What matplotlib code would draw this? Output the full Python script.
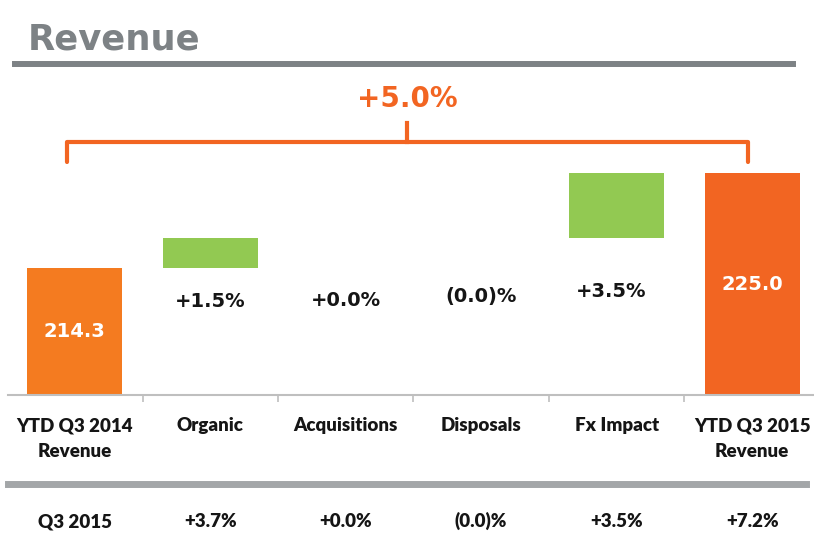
import matplotlib.pyplot as plt
from matplotlib.lines import Line2D
from matplotlib.transforms import Affine2D, blended_transform_factory

# data
categories = ["YTD Q3 2014\nRevenue", "Organic", "Acquisitions", "Disposals",
              "Fx Impact", "YTD Q3 2015\nRevenue"]
start_value = 214.3
end_value = 225.0
steps = [3.4, 0.0, 0.0, 7.3]          # organic, acquisitions, disposals, fx
step_labels = ["+1.5%", "+0.0%", "(0.0)%", "+3.5%"]
total_label = "+5.0%"
q3_row = ["Q3 2015", "+3.7%", "+0.0%", "(0.0)%", "+3.5%", "+7.2%"]

ORANGE_1 = "#F47B20"
ORANGE_2 = "#F26522"
GREEN = "#92C952"
GREY = "#7D8285"
DARK = "#151515"

W, H = 814, 536
fig = plt.figure(figsize=(W / 100, H / 100), dpi=100)
px = Affine2D().scale(1 / W, -1 / H).translate(0, 1) + fig.transFigure

# main axes (pixel box 8..814 x 143..395)
ax = fig.add_axes([8 / W, (H - 395) / H, 806 / W, (395 - 143) / H])
ax.set_xlim(-0.493, 5.457)
ax.set_ylim(200.0, 228.41)
for s in ["top", "right", "left"]:
    ax.spines[s].set_visible(False)
ax.spines["bottom"].set_color("#BFBFBF")
ax.spines["bottom"].set_linewidth(1.5)
ax.set_yticks([])
ax.set_xticks([i + 0.5 for i in range(len(categories) - 1)])
ax.set_xticklabels([])
ax.tick_params(axis="x", direction="out", length=5, width=1.2, color="#BFBFBF")

base = ax.get_ylim()[0]
n = len(categories)

# start / end bars
ax.bar(0, start_value - base, bottom=base, width=0.70, color=ORANGE_1)
ax.bar(n - 1, end_value - base, bottom=base, width=0.70, color=ORANGE_2)
ax.text(0, (start_value + base) / 2, f"{start_value:.1f}", ha="center", va="center",
        color="white", fontsize=14, fontweight="bold", family="DejaVu Sans")
ax.text(n - 1, (end_value + base) / 2, f"{end_value:.1f}", ha="center", va="center",
        color="white", fontsize=14, fontweight="bold", family="DejaVu Sans")

# floating step bars
running = start_value
for i, d in enumerate(steps):
    if d > 0:
        ax.bar(i + 1, d, bottom=running, width=0.70, color=GREEN)
    running += d

# step labels
step_label_y = [301.7, 300.0, 296.7, 291.7]
bt = blended_transform_factory(ax.transData, px)
for i, (lab, yy) in enumerate(zip(step_labels, step_label_y)):
    ax.text(i + 1 - (0.04 if i == 3 else 0), yy, lab, transform=bt, ha="center",
            va="center", color=DARK, fontsize=14, fontweight="bold",
            family="DejaVu Sans")

# category labels (two lines)
for i, cat in enumerate(categories):
    for j, line in enumerate(cat.split("\n")):
        ax.text(i, 431 + 26 * j, line, transform=bt, ha="center", va="baseline",
                color=DARK, fontsize=13.5, fontweight="heavy", family="Lato")

# Q3 row
for i, lab in enumerate(q3_row):
    ax.text(i, 527, lab, transform=bt, ha="center", va="baseline",
            color=DARK, fontsize=13.5, fontweight="heavy", family="Lato")

# title and rules
fig.text(28, 49, "Revenue", transform=px, ha="left", va="baseline", color=GREY,
         fontsize=25.5, fontweight="bold", family="DejaVu Sans")
fig.add_artist(Line2D([15, 793], [63.5, 63.5], transform=px, color=GREY, lw=4.3))
fig.add_artist(Line2D([8, 806], [483.5, 483.5], transform=px, color="#A3A6A8", lw=5))

# bracket with total change
fig.add_artist(Line2D([67, 67, 748, 748], [162, 142, 142, 162], transform=px,
                      color=ORANGE_2, lw=3, solid_joinstyle="round",
                      solid_capstyle="round"))
fig.add_artist(Line2D([407, 407], [142, 123], transform=px, color=ORANGE_2, lw=3))
fig.text(407, 107, total_label, transform=px, ha="center", va="baseline",
         color=ORANGE_2, fontsize=20, fontweight="bold", family="DejaVu Sans")

fig.savefig("out.png", dpi=100)
